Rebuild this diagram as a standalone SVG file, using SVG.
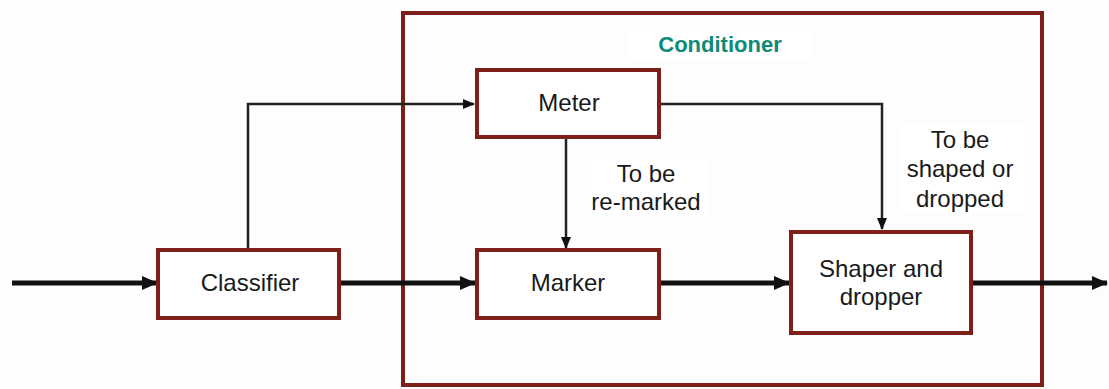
<svg xmlns="http://www.w3.org/2000/svg" width="1109" height="389" viewBox="0 0 1109 389">
<style>
.box{fill:#fff;stroke:#7e1f1a;stroke-width:4}
.lbl{font-family:"Liberation Sans",Arial,sans-serif;font-size:24px;fill:#1a1a1a;text-anchor:middle}
.ttl{font-family:"Liberation Sans",Arial,sans-serif;font-size:22px;font-weight:bold;fill:#0e8a78;text-anchor:middle}
.thin{fill:none;stroke:#222;stroke-width:2.5}
.thick{fill:none;stroke:#111;stroke-width:5}
</style>
<defs>
<marker id="ah" markerUnits="userSpaceOnUse" markerWidth="12" markerHeight="10" refX="11" refY="5" orient="auto"><path d="M0,0 L12,5 L0,10 Z" fill="#111"/></marker>
<marker id="ahT" markerUnits="userSpaceOnUse" markerWidth="16" markerHeight="14" refX="15" refY="7" orient="auto"><path d="M0,0 L16,7 L0,14 Z" fill="#111"/></marker>
</defs>
<rect width="1109" height="389" fill="#fdfdfd"/>
<g id="conditioner">
<rect x="403" y="13" width="639" height="372" fill="none" stroke="#7e1f1a" stroke-width="4"/>
<rect x="628" y="30" width="184" height="30" fill="#fff"/>
<text class="ttl" x="720" y="52">Conditioner</text>
</g>
<g id="connectors">
<path class="thick" d="M12,283 H157" marker-end="url(#ahT)"/>
<path class="thin" d="M248,250 V104 H474" marker-end="url(#ah)"/>
<path class="thick" d="M340,283 H475" marker-end="url(#ahT)"/>
<path class="thin" d="M566,138 V248" marker-end="url(#ah)"/>
<path class="thin" d="M660,104 H882 V229" marker-end="url(#ah)"/>
<path class="thick" d="M660,283 H789" marker-end="url(#ahT)"/>
<path class="thick" d="M972,283 H1107" marker-end="url(#ahT)"/>
</g>
<g id="label-remark">
<rect x="585" y="158" width="122" height="58" fill="#fff"/>
<text class="lbl" x="646" y="182">To be</text>
<text class="lbl" x="646" y="210">re-marked</text>
</g>
<g id="label-shape">
<rect x="900" y="125" width="124" height="88" fill="#fff"/>
<text class="lbl" x="960" y="148">To be</text>
<text class="lbl" x="960" y="177">shaped or</text>
<text class="lbl" x="960" y="207">dropped</text>
</g>
<g id="classifier">
<rect class="box" x="158" y="250" width="181" height="68"/>
<text class="lbl" x="250" y="291">Classifier</text>
</g>
<g id="meter">
<rect class="box" x="477" y="70" width="182" height="67"/>
<text class="lbl" x="569" y="111">Meter</text>
</g>
<g id="marker">
<rect class="box" x="477" y="250" width="182" height="68"/>
<text class="lbl" x="568" y="291">Marker</text>
</g>
<g id="shaper">
<rect class="box" x="791" y="232" width="180" height="101"/>
<text class="lbl" x="881" y="277">Shaper and</text>
<text class="lbl" x="881" y="305">dropper</text>
</g>
</svg>
